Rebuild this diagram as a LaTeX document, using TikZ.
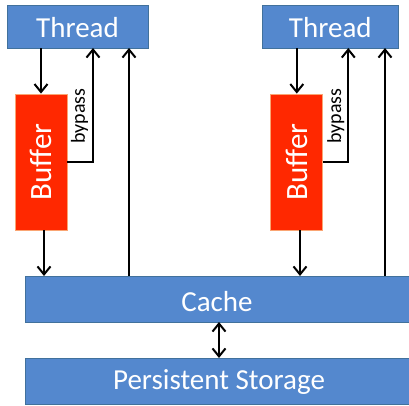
\documentclass[tikz,border=0pt]{standalone}
\usepackage{fontspec}
\setmainfont{Carlito}
\usetikzlibrary{arrows.meta,calc}
\definecolor{boxblue}{RGB}{84,136,206}
\definecolor{boxblueline}{RGB}{65,113,156}
\definecolor{bufred}{RGB}{255,40,0}
\definecolor{bufline}{RGB}{250,165,115}
\tikzset{
  bluebox/.style={draw=boxblueline,fill=boxblue,line width=0.8pt,text=white,inner sep=0pt},
  bigtext/.style={text=white,inner sep=0pt,font=\fontsize{29}{31}\selectfont},
  bufbox/.style={draw=bufline,fill=bufred,line width=0.8pt,text=white,inner sep=0pt,minimum width=52pt,minimum height=136pt},
  arr/.style={line width=2pt,-{Straight Barb[length=8pt,width=13pt]}},
  darr/.style={line width=2pt,{Straight Barb[length=8pt,width=13pt]}-{Straight Barb[length=8pt,width=13pt]}},
  lbl/.style={font=\fontsize{20}{22}\selectfont,rotate=90,inner sep=0pt}
}
\begin{document}
\begin{tikzpicture}[x=1pt,y=-1pt]
\useasboundingbox (0,0) rectangle (409,406);
% thread boxes
\node[bluebox,minimum width=141pt,minimum height=43pt] (thL) at (77.5,26.5) {};
\node[bigtext] (thLt) at (77.5,28) {Thread};
\node[bluebox,minimum width=135.3pt,minimum height=43pt] (thR) at (330.3,26.5) {};
\node[bigtext] (thRt) at (330.3,28) {Thread};
% buffers
\node[bufbox] (bufL) at (41,162) {};
\node[bigtext,rotate=90,font=\fontsize{31}{33}\selectfont] (bufLt) at (bufL) {Buffer};
\node[bufbox] (bufR) at (296.8,162) {};
\node[bigtext,rotate=90,font=\fontsize{31}{33}\selectfont] (bufRt) at (bufR) {Buffer};
% cache and storage
\node[bluebox,minimum width=392pt,minimum height=46pt,anchor=north west] (cache) at (25,276) {};
\node[bigtext] (cacheT) at (217,301.5) {Cache};
\node[bluebox,minimum width=392pt,minimum height=46pt,anchor=north west] (stor) at (25,358) {};
\node[bigtext] (storT) at (219,382) {Persistent Storage};
% coordinates
\coordinate (bpL) at (93,48);
\coordinate (upL) at (129,48);
\coordinate (bpR) at (348.3,48);
\coordinate (upR) at (385,48);
\coordinate (dsL) at (44,230);
\coordinate (dsR) at (300,230);
\coordinate (dbl) at (219,322);
% arrows left
\draw[arr] (bufL.north |- thL.south) -- (bufL.north);
\draw[arr] (dsL) -- (dsL |- cache.north);
\draw[arr] (bufL.east) -| (bpL);
\draw[arr] (upL |- cache.north) -- (upL);
% arrows right
\draw[arr] (bufR.north |- thR.south) -- (bufR.north);
\draw[arr] (dsR) -- (dsR |- cache.north);
\draw[arr] (bufR.east) -| (bpR);
\draw[arr] (upR |- cache.north) -- (upR);
% double arrow
\draw[darr] (dbl) -- (dbl |- stor.north);
% bypass labels
\node[lbl] (bypL) at (79.5,116) {bypass};
\node[lbl] (bypR) at (335.7,116) {bypass};
\end{tikzpicture}
\end{document}
